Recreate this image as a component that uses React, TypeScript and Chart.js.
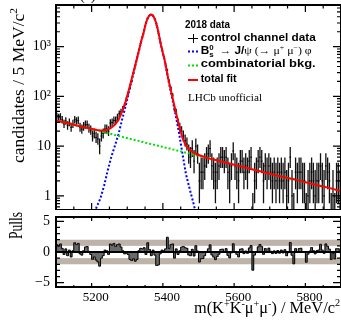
import React, { useEffect, useRef } from "react";
import { Chart, registerables } from "chart.js";

Chart.register(...registerables);

// Binning of the m(K+K-mu+mu-) spectrum
const MASS_LO = 5100;
const MASS_HI = 5900;
const BIN_WIDTH = 5;

// Candidates per 5 MeV/c^2 bin, first bin starts at 5100
const counts = [
  40, 38, 39, 34, 28, 32, 26, 30, 24, 28,
  34, 32, 33, 24, 22, 25, 27, 27, 23, 21,
  16, 18, 15, 14, 10, 16, 18, 22, 22, 20,
  29, 30, 33, 33, 38, 45, 49, 56, 66, 88,
  115, 149, 203, 294, 402, 574, 849, 1162, 1582, 2144,
  2940, 3802, 4237, 4371, 4180, 3531, 2674, 1867, 1299, 899,
  635, 449, 341, 207, 148, 106, 56, 49, 30, 24,
  20, 16, 13, 11, 7, 6, 9, 5, 10, 7,
  2, 3, 3, 4, 6, 7, 9, 4, 3, 2,
  3, 4, 6, 6, 5, 6, 3, 2, 4, 8,
  4, 3, 2, 5, 5, 3, 4, 3, 5, 6,
  0, 2, 3, 5, 6, 5, 2, 4, 3, 4,
  3, 2, 3, 2, 3, 2, 3, 2, 3, 1,
  2, 6, 1, 0, 3, 2, 3, 3, 2, 2,
  0, 1, 2, 3, 2, 1, 2, 2, 4, 2,
  1, 4, 3, 2, 0, 1, 0, 2, 2, 1,
];

// Fit pulls per bin
const pulls = [
  1.2, 1.0, 1.3, 0.6, -0.4, 0.5, -0.6, 0.3, -0.8, 0.2,
  1.5, 1.2, 1.4, -0.3, -0.5, 0.2, 0.8, 0.9, 0.1, -0.4,
  -1.2, -0.8, -1.3, -1.6, -2.3, -1.0, -0.6, 0.3, 0.2, -0.4,
  1.3, 1.1, 1.4, 0.9, 1.2, 1.3, 0.8, 0.2, -0.3, -0.2,
  -0.4, -1.2, -1.4, -1.1, -1.5, -1.2, 0.2, 0.6, 0.5, 0.7,
  -0.4, 1.5, 0.4, -0.6, 0.3, -0.5, -2.2, -2.1, -0.3, 0.3,
  0.2, 0.5, 2.4, 0.6, 1.2, 1.3, -1.0, 0.5, -0.4, 0.2,
  0.8, 0.9, 0.7, 0.6, -0.48, -0.61, 0.44, -0.65, 1.03, 0.15,
  -1.63, -1.1, -1.06, -0.6, 0.08, 0.5, 1.16, -0.47, -0.82, -1.25,
  -0.75, -0.35, 0.42, 0.46, 0.09, 0.55, -0.55, -0.95, -0.13, 1.34,
  -0.06, -0.38, -0.8, 0.46, 0.51, -0.27, 0.16, -0.21, 0.65, 1.05,
  -2.96, -0.49, -0.1, 0.83, 1.22, 0.88, -0.38, 0.57, 0.06, 0.63,
  0.12, -0.27, 0.18, -0.23, 0.24, -0.19, 0.31, -0.15, 0.37, -0.61,
  -0.11, 1.55, -0.52, -1.92, 0.55, -0.04, 0.55, 0.61, 0.0, 0.08,
  -1.66, -0.35, 0.15, 0.73, 0.23, -0.3, 0.23, 0.31, 1.25, 0.31,
  -0.22, 1.31, 0.92, 0.46, -1.22, -0.17, -1.13, 0.54, 0.54, -0.11,
];

// Fit components, sampled in m
const fitMass = [
  5100, 5125, 5150, 5175, 5195, 5205, 5215, 5225, 5235, 5245,
  5255, 5265, 5275, 5285, 5295, 5305, 5315, 5325, 5335, 5340,
  5345, 5352, 5356, 5360, 5363, 5366, 5368, 5371, 5374, 5378,
  5382, 5386, 5390, 5395, 5400, 5405, 5415, 5425, 5435, 5445,
  5455, 5465, 5475, 5485, 5495, 5525, 5575, 5625, 5675, 5725,
  5775, 5825, 5875, 5900,
];
const totalFit = [
  33, 29.8, 26.9, 24.3, 22.7, 21.9, 21.2, 20.7, 20.6, 21.4,
  23.5, 26.8, 33.1, 48.4, 76.8, 139, 264, 503, 973, 1362,
  1812, 2932, 3552, 4051, 4301, 4421, 4421, 4291, 4031, 3501,
  2860, 2190, 1580, 1060, 750, 539, 229, 109, 53.3, 27,
  14.7, 10.1, 8.5, 7.55, 6.88, 5.8, 4.7, 3.8, 3.1, 2.5,
  2.1, 1.7, 1.4, 1.24,
];
const bkgFit = [
  33, 29.8, 26.9, 24.3, 22.4, 21.5, 20.6, 19.8, 19.0, 18.2,
  17.5, 16.8, 16.1, 15.4, 14.8, 14.2, 13.6, 13.1, 12.6, 12.3,
  12.1, 11.7, 11.55, 11.37, 11.22, 11.09, 11.0, 10.86, 10.73, 10.56,
  10.38, 10.21, 10.05, 9.84, 9.65, 9.4, 9.1, 8.7, 8.3, 8.0,
  7.7, 7.4, 7.1, 6.8, 6.5, 5.8, 4.7, 3.8, 3.1, 2.5,
  2.1, 1.7, 1.4, 1.24,
];
const sigFit = [
  null, null, null, null, 0.28, 0.42, 0.62, 0.9, 1.6, 3.2,
  6.0, 10, 17, 33, 62, 125, 250, 490, 960, 1350,
  1800, 2920, 3540, 4040, 4290, 4410, 4410, 4280, 4020, 3490,
  2850, 2180, 1570, 1050, 740, 530, 220, 100, 45, 19,
  7, 2.7, 1.4, 0.75, 0.38, null, null, null, null, null,
  null, null, null, null,
];

// Axis labelling
const logMajor = [1, 10, 100, 1000];
const logMajorLabels = ["1", "10", "10²", "10³"];
const massLabels = [5200, 5400, 5600, 5800];
const pullLabels = [-5, 0, 5];
const pullBand = [1, 2];

// 68% Poisson intervals for small counts
const poissonLow = [0, 0.827, 1.292, 1.633, 1.914, 2.159, 2.38, 2.581, 2.768, 2.943, 3.108];
const poissonHigh = [1.148, 2.299, 2.637, 2.918, 3.162, 3.382, 3.583, 3.77, 3.945, 4.11, 4.267];

const binCenters = counts.map((_, i) => MASS_LO + BIN_WIDTH * (i + 0.5));

function interval(n: number): [number, number] {
  if (n <= 10) return [n - poissonLow[n], n + poissonHigh[n]];
  const s = Math.sqrt(n + 0.25);
  return [n + 0.5 - s, n + 0.5 + s];
}

const SERIF = '"Liberation Serif", "Times New Roman", serif';
const SANS = '"Liberation Sans", Arial, sans-serif';
const serif = (px: number) => `${px}px ${SERIF}`;
const sansB = (px: number) => `bold ${px}px ${SANS}`;

type Seg = { t: string; f: string; dy?: number; stay?: boolean };

// Draws a run of text pieces (with raised/lowered pieces), stretched to a width
function drawRich(
  ctx: CanvasRenderingContext2D,
  segs: Seg[],
  x: number,
  y: number,
  opts: { width?: number; align?: "left" | "right"; rotate?: boolean } = {}
) {
  ctx.save();
  const ws = segs.map((s) => {
    ctx.font = s.f;
    return ctx.measureText(s.t).width;
  });
  let natural = 0;
  segs.forEach((s, i) => {
    if (!s.stay) natural += ws[i];
  });
  const w = opts.width ?? natural;
  ctx.translate(x, y);
  if (opts.rotate) ctx.rotate(-Math.PI / 2);
  ctx.translate(opts.align === "right" ? -w : 0, 0);
  ctx.scale(w / natural, 1);
  ctx.fillStyle = "#000";
  ctx.textAlign = "left";
  ctx.textBaseline = "alphabetic";
  let cx = 0;
  segs.forEach((s, i) => {
    ctx.font = s.f;
    ctx.fillText(s.t, cx, s.dy ?? 0);
    if (!s.stay) cx += ws[i];
  });
  ctx.restore();
}

type TickMark = { v: number; len: number };

function drawFrame(chart: any, xMarks: TickMark[], yMarks: TickMark[]) {
  const { ctx, chartArea: a, scales } = chart;
  ctx.save();
  ctx.strokeStyle = "#000";
  ctx.lineWidth = 1.2;
  ctx.beginPath();
  for (const t of xMarks) {
    const px = scales.x.getPixelForValue(t.v);
    if (px < a.left + 1 || px > a.right - 1) continue;
    ctx.moveTo(px, a.bottom);
    ctx.lineTo(px, a.bottom - t.len);
    ctx.moveTo(px, a.top);
    ctx.lineTo(px, a.top + t.len);
  }
  for (const t of yMarks) {
    const py = scales.y.getPixelForValue(t.v);
    if (py < a.top + 1 || py > a.bottom - 1) continue;
    ctx.moveTo(a.left, py);
    ctx.lineTo(a.left + t.len, py);
    ctx.moveTo(a.right, py);
    ctx.lineTo(a.right - t.len, py);
  }
  ctx.stroke();
  ctx.lineWidth = 2;
  ctx.strokeRect(a.left, a.top, a.right - a.left, a.bottom - a.top);
  ctx.restore();
}

function massMarks(major: number, minor: number): TickMark[] {
  const out: TickMark[] = [];
  for (let v = MASS_LO; v <= MASS_HI; v += 50) out.push({ v, len: v % 200 === 0 ? major : minor });
  return out;
}

function logMarks(): TickMark[] {
  const out: TickMark[] = [];
  for (let d = -1; d <= 3; d++) {
    for (let k = 1; k <= 9; k++) out.push({ v: k * Math.pow(10, d), len: k === 1 ? 8 : 4 });
  }
  return out;
}

function pullMarks(): TickMark[] {
  const out: TickMark[] = [];
  for (let v = -5; v <= 5; v++) out.push({ v, len: v % 5 === 0 ? 8 : 4 });
  return out;
}

// keep the plot frame exactly where the axis sizes put it
function fixY(s: any) {
  s.width = 56;
  s.paddingTop = 0;
  s.paddingBottom = 0;
}

const spectrumPlugin = {
  id: "spectrum",
  beforeDatasetsDraw(chart: any) {
    const { ctx, chartArea: a, scales } = chart;
    const xs = scales.x;
    const ys = scales.y;
    ctx.save();
    ctx.beginPath();
    ctx.rect(a.left, a.top, a.right - a.left, a.bottom - a.top);
    ctx.clip();
    ctx.strokeStyle = "#111";
    ctx.lineWidth = 1.3;
    ctx.beginPath();
    counts.forEach((n, i) => {
      const c = binCenters[i];
      const px = xs.getPixelForValue(c);
      const [lo, hi] = interval(n);
      const yHi = ys.getPixelForValue(hi);
      const yLo = lo > 0 ? ys.getPixelForValue(lo) : a.bottom + 2;
      ctx.moveTo(px, Math.min(yLo, a.bottom + 2));
      ctx.lineTo(px, yHi);
    });
    ctx.stroke();
    ctx.lineWidth = 1;
    ctx.strokeStyle = "#000";
    ctx.beginPath();
    counts.forEach((n, i) => {
      if (n <= 0) return;
      const c = binCenters[i];
      const py = ys.getPixelForValue(n);
      ctx.moveTo(xs.getPixelForValue(c - BIN_WIDTH / 2), py);
      ctx.lineTo(xs.getPixelForValue(c + BIN_WIDTH / 2), py);
    });
    ctx.stroke();
    ctx.restore();
  },
  afterDraw(chart: any) {
    const { ctx } = chart;
    drawFrame(chart, massMarks(7, 3.5), logMarks());

    drawRich(ctx, [{ t: "(a)", f: serif(14) }], 80, 0);

    drawRich(
      ctx,
      [
        { t: "candidates / 5 MeV/c", f: serif(17) },
        { t: "2", f: serif(11), dy: -7 },
      ],
      23.5,
      163,
      { width: 155, rotate: true }
    );

    // legend
    const lx0 = 188;
    const lx1 = 198;
    const tx = 200.7;
    drawRich(ctx, [{ t: "2018 data", f: sansB(10.5) }], 185, 27.5, { width: 45 });

    ctx.save();
    ctx.strokeStyle = "#000";
    ctx.lineWidth = 1;
    ctx.beginPath();
    ctx.moveTo(lx0, 38.5);
    ctx.lineTo(lx1, 38.5);
    ctx.moveTo(193.5, 34);
    ctx.lineTo(193.5, 43);
    ctx.stroke();

    const legendLine = (y: number, color: string, dash: number[]) => {
      ctx.strokeStyle = color;
      ctx.lineWidth = 2;
      ctx.setLineDash(dash);
      ctx.beginPath();
      ctx.moveTo(lx0, y);
      ctx.lineTo(lx1, y);
      ctx.stroke();
    };
    legendLine(51.5, "#0000ff", [2, 2]);
    legendLine(65.5, "#00e000", [2, 2]);
    legendLine(80, "#ff0000", []);
    ctx.restore();

    drawRich(ctx, [{ t: "control channel data", f: sansB(10.5) }], tx, 41, { width: 115 });
    drawRich(
      ctx,
      [
        { t: "B", f: sansB(10.5) },
        { t: "0", f: sansB(7), dy: -4.5, stay: true },
        { t: "s", f: sansB(7), dy: 2.5 },
        { t: "  → ", f: serif(10.5) },
        { t: "J/", f: sansB(10.5) },
        { t: "ψ", f: serif(10.5) },
        { t: " (→ ", f: serif(10.5) },
        { t: "μ", f: serif(10.5) },
        { t: "+", f: serif(7), dy: -4 },
        { t: " μ", f: serif(10.5) },
        { t: "−", f: serif(7), dy: -4 },
        { t: ") φ", f: serif(10.5) },
      ],
      tx,
      54,
      { width: 111 }
    );
    drawRich(ctx, [{ t: "combinatorial bkg.", f: sansB(10.5) }], tx, 67, { width: 115 });
    drawRich(ctx, [{ t: "total fit", f: sansB(10.5) }], tx, 82, { width: 36 });

    drawRich(ctx, [{ t: "LHCb unofficial", f: serif(11) }], 188, 101, { width: 74 });
  },
};

const pullPlugin = {
  id: "pullDecor",
  beforeDatasetsDraw(chart: any) {
    const { ctx, chartArea: a, scales } = chart;
    const ys = scales.y;
    ctx.save();
    ctx.fillStyle = "#bdb3a8";
    for (const sign of [1, -1]) {
      const y1 = ys.getPixelForValue(sign * pullBand[0]);
      const y2 = ys.getPixelForValue(sign * pullBand[1]);
      ctx.fillRect(a.left, Math.min(y1, y2), a.right - a.left, Math.abs(y2 - y1));
    }
    ctx.restore();
  },
  afterDatasetsDraw(chart: any) {
    const { ctx, chartArea: a, scales } = chart;
    const y0 = scales.y.getPixelForValue(0);
    ctx.save();
    ctx.strokeStyle = "#000";
    ctx.lineWidth = 2;
    ctx.beginPath();
    ctx.moveTo(a.left, y0);
    ctx.lineTo(a.right, y0);
    ctx.stroke();
    ctx.restore();
  },
  afterDraw(chart: any) {
    const { ctx } = chart;
    drawFrame(chart, massMarks(4, 2), pullMarks());
    drawRich(ctx, [{ t: "Pulls", f: serif(18) }], 22, 29, { width: 27, rotate: true });
    drawRich(
      ctx,
      [
        { t: "m(K", f: serif(16) },
        { t: "+", f: serif(10), dy: -6.5 },
        { t: "K", f: serif(16) },
        { t: "-", f: serif(10), dy: -6.5 },
        { t: "μ", f: serif(16) },
        { t: "+", f: serif(10), dy: -6.5 },
        { t: "μ", f: serif(16) },
        { t: "-", f: serif(10), dy: -6.5 },
        { t: ") / MeV/c", f: serif(16) },
        { t: "2", f: serif(10), dy: -7 },
      ],
      340,
      103,
      { width: 146, align: "right" }
    );
  },
};

export default function App() {
  const topRef = useRef<HTMLCanvasElement>(null);
  const botRef = useRef<HTMLCanvasElement>(null);

  useEffect(() => {
    document.body.style.margin = "0";
    const line = (vals: (number | null)[]) => fitMass.map((m, i) => ({ x: m, y: vals[i] }));

    const top = new Chart(topRef.current as HTMLCanvasElement, {
      type: "line",
      data: {
        datasets: [
          {
            label: "total fit",
            data: line(totalFit),
            borderColor: "#ff0000",
            borderWidth: 2,
            pointRadius: 0,
            order: 0,
          },
          {
            label: "combinatorial bkg.",
            data: line(bkgFit),
            borderColor: "#00e000",
            borderWidth: 2,
            borderDash: [2, 2],
            pointRadius: 0,
            order: 1,
          },
          {
            label: "signal",
            data: line(sigFit),
            borderColor: "#0000ff",
            borderWidth: 2,
            borderDash: [2, 2],
            pointRadius: 0,
            order: 2,
          },
        ],
      },
      options: {
        animation: false,
        responsive: false,
        maintainAspectRatio: false,
        events: [],
        layout: { padding: { top: 5, right: 0, bottom: 0, left: 0 } },
        plugins: { legend: { display: false }, tooltip: { enabled: false } },
        scales: {
          x: { type: "linear", min: MASS_LO, max: MASS_HI, display: false },
          y: {
            type: "logarithmic",
            min: 0.52,
            max: 6900,
            grid: { display: false, drawTicks: false },
            border: { display: false },
            afterFit: fixY,
            afterBuildTicks: (s: any) => {
              s.ticks = logMajor.map((v) => ({ value: v }));
            },
            ticks: {
              autoSkip: false,
              padding: 5,
              color: "#000",
              font: { family: SERIF, size: 14 },
              callback: (v: any) => {
                const k = logMajor.indexOf(Number(v));
                return k >= 0 ? logMajorLabels[k] : "";
              },
            },
          },
        },
      },
      plugins: [spectrumPlugin],
    } as any);

    const bot = new Chart(botRef.current as HTMLCanvasElement, {
      type: "bar",
      data: {
        datasets: [
          {
            type: "line",
            data: binCenters.map((c, i) => ({ x: c, y: pulls[i] })),
            stepped: "middle",
            borderColor: "#000",
            borderWidth: 1,
            pointRadius: 0,
            order: 0,
          },
          {
            type: "bar",
            data: binCenters.map((c, i) => ({ x: c, y: pulls[i] })),
            backgroundColor: "#6a6a6a",
            barPercentage: 1,
            categoryPercentage: 1,
            order: 1,
          },
        ],
      },
      options: {
        animation: false,
        responsive: false,
        maintainAspectRatio: false,
        events: [],
        layout: { padding: { top: 7, right: 0, bottom: 0, left: 0 } },
        plugins: { legend: { display: false }, tooltip: { enabled: false } },
        scales: {
          x: {
            type: "linear",
            min: MASS_LO,
            max: MASS_HI,
            offset: false,
            grid: { display: false, drawTicks: false },
            border: { display: false },
            afterFit: (s: any) => {
              s.height = 34;
              s.paddingLeft = 0;
              s.paddingRight = 0;
            },
            afterBuildTicks: (s: any) => {
              s.ticks = massLabels.map((v) => ({ value: v }));
            },
            ticks: {
              autoSkip: false,
              maxRotation: 0,
              padding: 3,
              labelOffset: 4,
              color: "#000",
              font: { family: SERIF, size: 13 },
              callback: (v: any) => String(v),
            },
          },
          y: {
            type: "linear",
            min: -5.7,
            max: 5.7,
            grid: { display: false, drawTicks: false },
            border: { display: false },
            afterFit: fixY,
            afterBuildTicks: (s: any) => {
              s.ticks = pullLabels.map((v) => ({ value: v }));
            },
            ticks: {
              autoSkip: false,
              padding: 6,
              color: "#000",
              font: { family: SERIF, size: 14 },
              callback: (v: any) => (Number(v) < 0 ? "−" + Math.abs(Number(v)) : String(v)),
            },
          },
        },
      },
      plugins: [pullPlugin],
    } as any);

    return () => {
      top.destroy();
      bot.destroy();
    };
  }, []);

  return (
    <div style={{ position: "relative", width: 341, height: 321, background: "#fff" }}>
      <canvas
        ref={topRef}
        width={341}
        height={210}
        style={{ position: "absolute", left: 0, top: 0, width: 341, height: 210 }}
      />
      <canvas
        ref={botRef}
        width={341}
        height={111}
        style={{ position: "absolute", left: 0, top: 210, width: 341, height: 111 }}
      />
    </div>
  );
}
